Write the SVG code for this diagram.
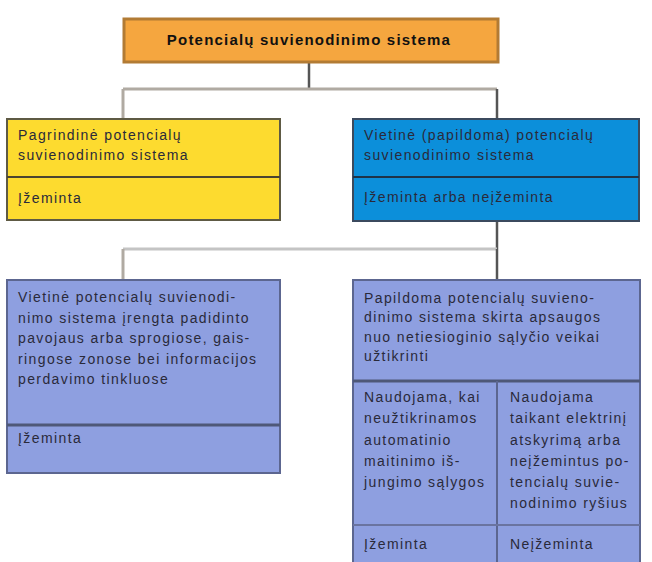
<svg xmlns="http://www.w3.org/2000/svg" width="652" height="562" viewBox="0 0 652 562">
<style>
.t{font-family:"Liberation Sans",Arial,sans-serif;font-size:14px;letter-spacing:1.4px;fill:#2a2a3a}
.title{font-family:"Liberation Sans",Arial,sans-serif;font-size:15px;letter-spacing:1.2px;font-weight:bold;fill:#111}
.lt{stroke:#b0aaa2;stroke-width:3;fill:none}
.dk{stroke:#555;stroke-width:2.5;fill:none}
</style>
<rect width="652" height="562" fill="#fff"/>
<g id="connectors">
<line class="dk" x1="309" y1="62" x2="309" y2="88"/>
<line class="lt" x1="123" y1="89" x2="497" y2="89"/>
<line class="lt" x1="123" y1="89" x2="123" y2="118"/>
<line class="dk" x1="497" y1="89" x2="497" y2="118"/>
<line class="dk" x1="497" y1="222" x2="497" y2="249"/>
<line class="lt" x1="123" y1="249" x2="497" y2="249" style="stroke:#c4c4c4"/>
<line class="lt" x1="123" y1="249" x2="123" y2="280"/>
<line class="dk" x1="497" y1="249" x2="497" y2="280"/>
</g>
<g id="top">
<rect x="124" y="19" width="374" height="43" fill="#f5a63f" stroke="#b27b34" stroke-width="3"/>
<text class="title" x="309" y="45" text-anchor="middle">Potencialų suvienodinimo sistema</text>
</g>
<g id="main">
<rect x="7" y="119" width="273" height="101" fill="#fddb2f" stroke="#5e5a44" stroke-width="2"/>
<line x1="7" y1="177" x2="280" y2="177" stroke="#4a4430" stroke-width="2"/>
<text class="t" x="18" y="140">Pagrindinė potencialų</text>
<text class="t" x="18" y="160">suvienodinimo sistema</text>
<text class="t" x="18" y="203">Įžeminta</text>
</g>
<g id="local">
<rect x="353" y="119" width="286" height="102" fill="#0c8fda" stroke="#3b4a5e" stroke-width="2"/>
<line x1="353" y1="177" x2="639" y2="177" stroke="#1f3348" stroke-width="2"/>
<text class="t" x="364" y="140">Vietinė (papildoma) potencialų</text>
<text class="t" x="364" y="160">suvienodinimo sistema</text>
<text class="t" x="364" y="202">Įžeminta arba neįžeminta</text>
</g>
<g id="local-hazard">
<rect x="7" y="280" width="273" height="193" fill="#8e9fe0" stroke="#5c6690" stroke-width="2"/>
<line x1="7" y1="425" x2="280" y2="425" stroke="#4e5878" stroke-width="3"/>
<text class="t" x="18" y="302">Vietinė potencialų suvienodi-</text>
<text class="t" x="18" y="323">nimo sistema įrengta padidinto</text>
<text class="t" x="18" y="343">pavojaus arba sprogiose, gais-</text>
<text class="t" x="18" y="364">ringose zonose bei informacijos</text>
<text class="t" x="18" y="384">perdavimo tinkluose</text>
<text class="t" x="18" y="443">Įžeminta</text>
</g>
<g id="supplementary">
<rect x="353" y="280" width="287" height="290" fill="#8e9fe0" stroke="#5c6690" stroke-width="2"/>
<line x1="353" y1="381" x2="640" y2="381" stroke="#4e5878" stroke-width="3"/>
<line x1="497" y1="381" x2="497" y2="562" stroke="#5c6690" stroke-width="2"/>
<line x1="353" y1="525" x2="640" y2="525" stroke="#6a74a0" stroke-width="2"/>
<text class="t" x="364" y="303">Papildoma potencialų suvieno-</text>
<text class="t" x="364" y="322">dinimo sistema skirta apsaugos</text>
<text class="t" x="364" y="342">nuo netiesioginio sąlyčio veikai</text>
<text class="t" x="364" y="361">užtikrinti</text>
<text class="t" x="364" y="402">Naudojama, kai</text>
<text class="t" x="364" y="423">neužtikrinamos</text>
<text class="t" x="364" y="445">automatinio</text>
<text class="t" x="364" y="466">maitinimo iš-</text>
<text class="t" x="364" y="487">jungimo sąlygos</text>
<text class="t" x="510" y="402">Naudojama</text>
<text class="t" x="510" y="423">taikant elektrinį</text>
<text class="t" x="510" y="445">atskyrimą arba</text>
<text class="t" x="510" y="466">neįžemintus po-</text>
<text class="t" x="510" y="487">tencialų suvie-</text>
<text class="t" x="510" y="508">nodinimo ryšius</text>
<text class="t" x="364" y="549">Įžeminta</text>
<text class="t" x="510" y="549">Neįžeminta</text>
</g>
</svg>
